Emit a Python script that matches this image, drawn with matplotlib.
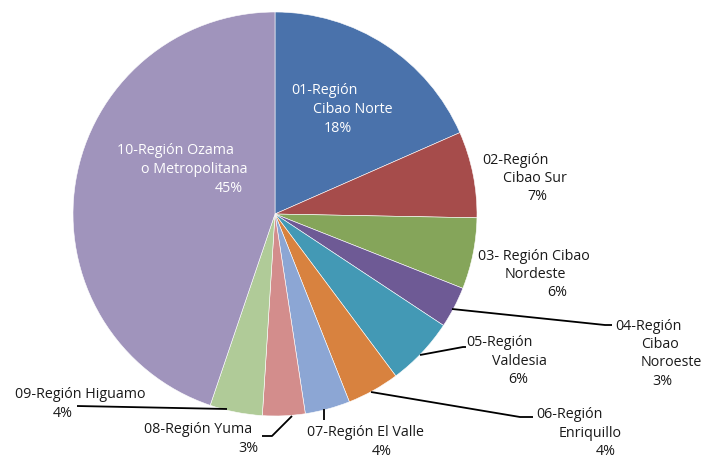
import matplotlib.pyplot as plt

# data
regiones = ['01-Región Cibao Norte', '02-Región Cibao Sur', '03- Región Cibao Nordeste',
            '04-Región Cibao Noroeste', '05-Región Valdesia', '06-Región Enriquillo',
            '07-Región El Valle', '08-Región Yuma', '09-Región Higuamo',
            '10-Región Ozama o Metropolitana']
porcentajes = [18.4, 6.9, 5.7, 3.3, 5.5, 4.2, 3.6, 3.4, 4.2, 44.8]
colores = ['#4a72ab', '#a64c4b', '#85a55a', '#6e5a95', '#4399b5',
           '#d8823f', '#8ca6d4', '#d38d8c', '#b0cb98', '#a094bc']

# how each label wraps in the picture
lineas = [['01-Región', 'Cibao Norte'], ['02-Región', 'Cibao Sur'],
          ['03- Región Cibao', 'Nordeste'], ['04-Región', 'Cibao', 'Noroeste'],
          ['05-Región', 'Valdesia'], ['06-Región', 'Enriquillo'],
          ['07-Región El Valle'], ['08-Región Yuma'], ['09-Región Higuamo'],
          ['10-Región Ozama', 'o Metropolitana']]

# layout (pixel coords, y from top): left x of each line, y of first line
pos_x = [[291, 313, 324], [482, 503, 527], [478, 505, 547], [615, 641, 641, 652],
         [466, 492, 508], [536, 559, 596], [307, 372], [144, 238], [15, 53],
         [117, 141, 215]]
pos_y = [91, 160, 256, 326, 343, 415, 433, 430, 395, 151]
dy = 18.5

W, H = 706, 456
cx, cy, r = 275, 215, 202

plt.rcParams['font.family'] = ['Open Sans', 'DejaVu Sans']
fig = plt.figure(figsize=(W / 100, H / 100), dpi=100)
ax = fig.add_axes([0, 0, 1, 1])

wedges, _ = ax.pie(porcentajes, colors=colores, startangle=90, counterclock=False,
                   center=(cx, H - cy), radius=r,
                   wedgeprops=dict(edgecolor='white', linewidth=0.4))
ax.set_xlim(0, W)
ax.set_ylim(0, H)
ax.set_aspect('equal')
ax.axis('off')

for i, lns in enumerate(lineas):
    col = 'white' if i in (0, 9) else '#1a1a1a'
    txt = lns + ['%.0f%%' % porcentajes[i]]
    for j, t in enumerate(txt):
        ax.text(pos_x[i][j], H - (pos_y[i] + j * dy), t, fontsize=10.3, color=col,
                ha='left', va='center')

# leader lines
guias = {3: [(452, 310), (605, 326), (612, 326)],
         4: [(420, 356), (463, 348), (466, 348)],
         5: [(371, 393), (520, 418), (533, 418)],
         6: [(324, 410), (324, 421)],
         7: [(292, 417), (272, 437), (262, 437)],
         8: [(227, 410), (77, 407)]}
for k, pts in guias.items():
    ax.plot([p[0] for p in pts], [H - p[1] for p in pts], color='black', lw=1.3,
            solid_capstyle='butt')

fig.savefig('out.png', dpi=100)
